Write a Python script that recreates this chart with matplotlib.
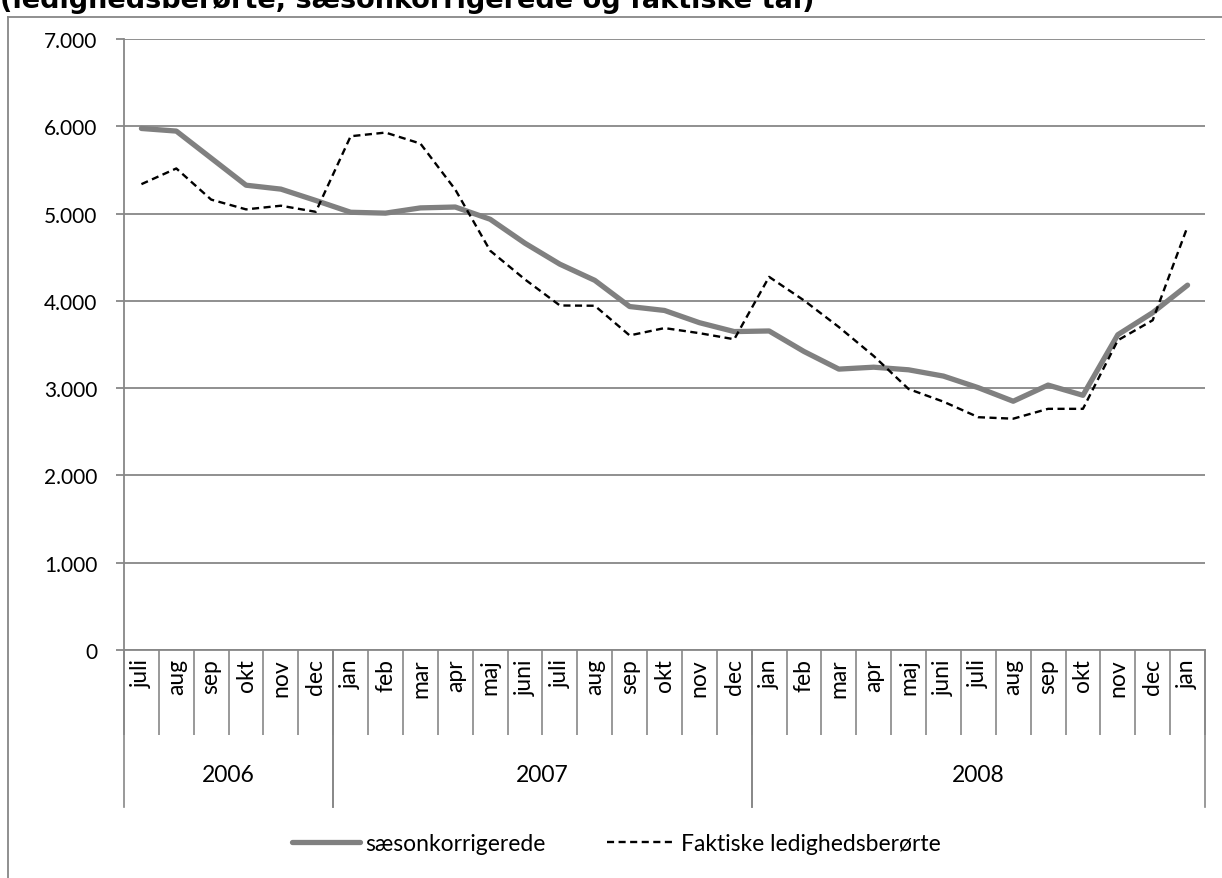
import matplotlib.pyplot as plt
from matplotlib.lines import Line2D

months = ["juli", "aug", "sep", "okt", "nov", "dec",
          "jan", "feb", "mar", "apr", "maj", "juni", "juli", "aug", "sep", "okt", "nov", "dec",
          "jan", "feb", "mar", "apr", "maj", "juni", "juli", "aug", "sep", "okt", "nov", "dec", "jan"]
years = ["2006", "2007", "2008"]
year_spans = [(0, 5), (6, 17), (18, 30)]

saeson = [5975, 5945, 5635, 5325, 5280, 5150,
          5015, 5005, 5065, 5075, 4935, 4660, 4420, 4235, 3935, 3890, 3750, 3648,
          3655, 3420, 3218, 3240, 3210, 3138, 3005, 2850, 3035, 2918, 3612, 3865, 4180]
faktiske = [5337, 5517, 5160, 5048, 5090, 5020,
            5886, 5928, 5802, 5275, 4575, 4245, 3947, 3944, 3604, 3688, 3630, 3560,
            4275, 4005, 3700, 3368, 2990, 2845, 2667, 2650, 2763, 2763, 3548, 3778, 4851]

W, H = 1222, 879
grid_c = "#878787"
fs = 16.5
plt.rcParams["font.family"] = ["Lato", "DejaVu Sans"]

fig = plt.figure(figsize=(W / 100, H / 100), dpi=100)
ax = fig.add_axes([124 / W, (H - 651) / H, (1205 - 124) / W, (651 - 40) / H])

x = list(range(len(months)))
ax.plot(x, saeson, color="#808080", lw=3.8, solid_joinstyle="round", solid_capstyle="round",
        label="sæsonkorrigerede", zorder=3)
ax.plot(x, faktiske, color="black", lw=1.7, linestyle=(0, (3.0, 1.9)),
        label="Faktiske ledighedsberørte", zorder=4)

ax.set_xlim(-0.5, len(months) - 0.5)
ax.set_ylim(0, 7000)
ax.set_yticks(range(0, 7001, 1000))
ax.set_yticklabels(["0" if v == 0 else f"{v // 1000}.{v % 1000:03d}" for v in range(0, 7001, 1000)])
ax.yaxis.grid(True, color=grid_c, lw=1.3)
ax.set_axisbelow(True)

for s in ["top", "right"]:
    ax.spines[s].set_visible(False)
for s in ["left", "bottom"]:
    ax.spines[s].set_color(grid_c)
    ax.spines[s].set_linewidth(1.3)

ax.tick_params(axis="y", length=6, color=grid_c, width=1.3, labelsize=15, pad=13)

# month boundaries as long major ticks, month names as minor tick labels
ax.set_xticks([i - 0.5 for i in range(len(months) + 1)])
ax.set_xticklabels([])
ax.tick_params(axis="x", which="major", length=61, color=grid_c, width=1.2)
ax.set_xticks(x, minor=True)
ax.set_xticklabels(months, minor=True, rotation=90, fontsize=fs)
ax.tick_params(axis="x", which="minor", length=0, pad=6)

tr = ax.get_xaxis_transform()
for (a, b), yr in zip(year_spans, years):
    for xb in (a - 0.5, b + 0.5):
        ax.plot([xb, xb], [0, -157 / 611], transform=tr, color=grid_c, lw=1.2, clip_on=False)
    ax.text((a + b) / 2, -124 / 611, yr, transform=tr, ha="center", va="center", fontsize=fs)

fig.legend(loc="center", bbox_to_anchor=(616 / W, (H - 845) / H), ncol=2, frameon=False,
           fontsize=fs, handlelength=3.0, columnspacing=2.7, handletextpad=0.2)

# chart frame, cut off on the right and bottom
fig.add_artist(Line2D([8 / W, 8 / W], [0, 1 - 18 / H], color=grid_c, lw=1.3))
fig.add_artist(Line2D([8 / W, 1], [1 - 18 / H, 1 - 18 / H], color=grid_c, lw=1.3))

fig.text(0, 1 - 8 / H, "(ledighedsberørte, sæsonkorrigerede og faktiske tal)",
         ha="left", va="baseline", fontsize=19.5, fontweight="bold", family="DejaVu Sans")

fig.savefig("out.png", dpi=100)
